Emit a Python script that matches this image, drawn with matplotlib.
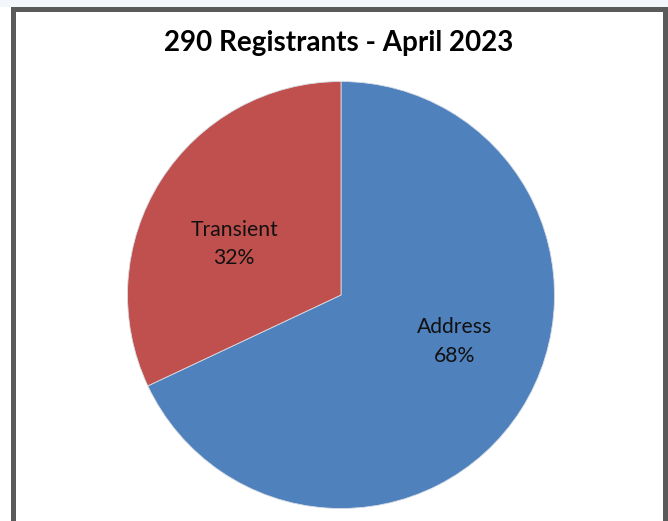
import matplotlib
matplotlib.use('Agg')
import matplotlib.pyplot as plt
from matplotlib.patches import Rectangle

# data
labels = ["Address", "Transient"]
shares = [68, 32]
colors = ["#4F81BD", "#C0504D"]
title = "290 Registrants - April 2023"

W, H = 668, 521
fig = plt.figure(figsize=(W / 100, H / 100), dpi=100)
fig.patch.set_facecolor("white")

# light strip above the chart frame and the dark frame itself
fig.patches.append(Rectangle((0, 1 - 7 / H), 1, 7 / H, transform=fig.transFigure,
                             facecolor="#F3F6FA", edgecolor="none", zorder=0))
fig.patches.append(Rectangle((11 / W, 0), 5 / W, 1 - 7 / H, transform=fig.transFigure,
                             facecolor="#5A5A5A", edgecolor="none", zorder=1))
fig.patches.append(Rectangle((11 / W, 1 - 12 / H), 1 - 11 / W, 5 / H, transform=fig.transFigure,
                             facecolor="#5A5A5A", edgecolor="none", zorder=1))
fig.patches.append(Rectangle((663 / W, 0), 5 / W, 1 - 7 / H, transform=fig.transFigure,
                             facecolor="#5A5A5A", edgecolor="none", zorder=1))

# pie: centre (341, 295), radius ~213 px
r = 213.5
ax = fig.add_axes([(341 - r) / W, 1 - (295 + r) / H, 2 * r / W, 2 * r / H])
wedges, _ = ax.pie(shares, colors=colors, startangle=90, counterclock=False,
                   radius=1.0, wedgeprops=dict(linewidth=0.6, edgecolor="#d8dde6"))
ax.set_xlim(-1, 1)
ax.set_ylim(-1, 1)
ax.set_aspect("equal")
ax.axis("off")

font = "Lato"
ax.text(0.53, -0.216, f"{labels[0]}\n{shares[0]}%", ha="center", va="center",
        fontsize=15.2, family=font, linespacing=1.55, color="#111111")
ax.text(-0.50, 0.239, f"{labels[1]}\n{shares[1]}%", ha="center", va="center",
        fontsize=15.2, family=font, linespacing=1.55, color="#111111")

fig.text(339 / W, 1 - 43 / H, title, ha="center", va="center",
         fontsize=20, fontweight="bold", family=font, color="#000000")

fig.savefig("out.png", dpi=100)
